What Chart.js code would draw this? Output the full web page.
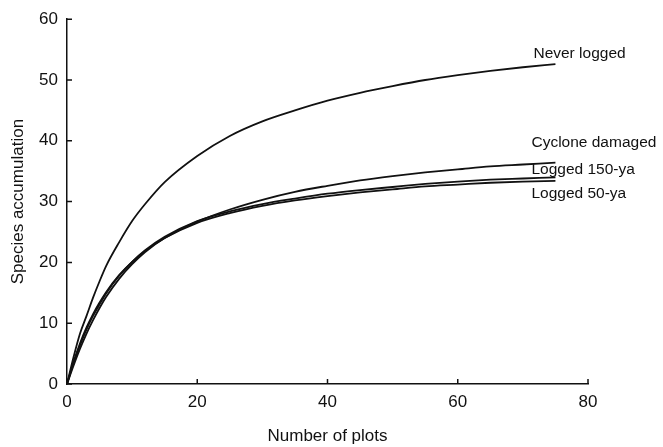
<!DOCTYPE html>
<html>
<head>
<meta charset="utf-8">
<script src="https://cdn.jsdelivr.net/npm/chart.js@4"></script>
<style>
    html, body { margin: 0; padding: 0; background: #fff; }
    #wrap { width: 663px; height: 447px; }
</style>
</head>
<body>
<div id="wrap"><canvas id="chart-species"></canvas></div>
<script>
// number of plots sampled along each curve
const plots = [0, 1, 2, 3, 4, 5, 6, 8, 10, 12, 15, 20, 25, 30, 35, 40, 45, 50, 55, 60, 65, 70, 75];

const neverLogged = [0, 4.4, 8.3, 11.2, 14.2, 16.9, 19.4, 23.3, 26.8, 29.6, 33.2, 37.5, 40.8, 43.2, 45.0, 46.6, 47.9, 49.0, 50.0, 50.8, 51.5, 52.1, 52.6];
const cycloneDamaged = [0, 3.0, 5.8, 8.3, 10.5, 12.5, 14.3, 17.3, 19.7, 21.7, 24.0, 26.7, 28.7, 30.3, 31.6, 32.6, 33.5, 34.2, 34.8, 35.3, 35.8, 36.1, 36.4];
const logged150 = [0, 3.4, 6.4, 9.0, 11.2, 13.1, 14.9, 17.8, 20.1, 22.0, 24.2, 26.8, 28.4, 29.6, 30.5, 31.3, 31.9, 32.4, 32.9, 33.3, 33.6, 33.8, 34.0];
const logged50 = [0, 3.6, 6.7, 9.3, 11.5, 13.4, 15.1, 17.9, 20.1, 21.9, 24.0, 26.5, 28.1, 29.3, 30.2, 30.9, 31.5, 32.0, 32.5, 32.8, 33.1, 33.3, 33.4];

const seriesNames = ['Never logged', 'Cyclone damaged', 'Logged 150-ya', 'Logged 50-ya'];
const xTicks = [0, 20, 40, 60, 80];
const yTicks = [0, 10, 20, 30, 40, 50, 60];

window.addEventListener('load', onLoad);

function toPoints(values) {
    return plots.map((p, i) => ({ x: p, y: values[i] }));
}

function onLoad() {
    const ink = '#111';
    const font = "'Liberation Sans', Arial, Helvetica, sans-serif";

    // where each curve name sits, relative to the end of its curve
    const labelOffsets = [[-22, -10], [-24, -20], [-24, -8], [-24, 13]];

    const endLabels = {
        id: 'endLabels',
        afterDatasetsDraw(chart) {
            const c = chart.ctx;
            c.save();
            c.fillStyle = ink;
            c.font = '15.5px ' + font;
            c.textAlign = 'left';
            c.textBaseline = 'middle';
            chart.data.datasets.forEach((ds, i) => {
                const pts = chart.getDatasetMeta(i).data;
                const last = pts[pts.length - 1];
                c.fillText(ds.label, last.x + labelOffsets[i][0], last.y + labelOffsets[i][1]);
            });
            c.restore();
        }
    };

    // tick marks drawn inside the axes
    const innerTicks = {
        id: 'innerTicks',
        afterDraw(chart) {
            const c = chart.ctx;
            const xs = chart.scales.x, ys = chart.scales.y;
            const area = chart.chartArea;
            c.save();
            c.strokeStyle = ink;
            c.lineWidth = 1.5;
            c.beginPath();
            xTicks.forEach(v => {
                const px = xs.getPixelForValue(v);
                c.moveTo(px, area.bottom);
                c.lineTo(px, area.bottom - 5);
            });
            yTicks.forEach(v => {
                const py = ys.getPixelForValue(v);
                c.moveTo(area.left, py);
                c.lineTo(area.left + 5, py);
            });
            c.stroke();
            c.restore();
        }
    };

    const lineStyle = {
        borderColor: ink,
        borderWidth: 1.8,
        pointRadius: 0,
        fill: false,
        cubicInterpolationMode: 'monotone'
    };

    const ctx = document.getElementById('chart-species').getContext('2d');
    const chartSpecies = new Chart(ctx, {
        type: 'line',
        data: {
            datasets: [
                Object.assign({ label: seriesNames[0], data: toPoints(neverLogged) }, lineStyle),
                Object.assign({ label: seriesNames[1], data: toPoints(cycloneDamaged) }, lineStyle),
                Object.assign({ label: seriesNames[2], data: toPoints(logged150) }, lineStyle),
                Object.assign({ label: seriesNames[3], data: toPoints(logged50) }, lineStyle)
            ]
        },
        options: {
            responsive: true,
            maintainAspectRatio: false,
            animation: false,
            layout: {
                padding: { left: 0, right: 75, top: 18, bottom: 0 }
            },
            plugins: {
                legend: { display: false },
                tooltip: { enabled: false }
            },
            scales: {
                x: {
                    type: 'linear',
                    min: 0,
                    max: 80,
                    afterBuildTicks: scale => { scale.ticks = xTicks.map(v => ({ value: v })); },
                    afterFit: scale => { scale.height = 63; },
                    grid: { display: false, drawTicks: false },
                    border: { display: true, color: ink, width: 1.5 },
                    ticks: {
                        color: ink,
                        padding: 8,
                        maxRotation: 0,
                        font: { family: font, size: 17 }
                    },
                    title: {
                        display: true,
                        text: 'Number of plots',
                        color: ink,
                        padding: { top: 0, bottom: 0 },
                        font: { family: font, size: 17 }
                    }
                },
                y: {
                    min: 0,
                    max: 60,
                    afterBuildTicks: scale => { scale.ticks = yTicks.map(v => ({ value: v })); },
                    afterFit: scale => { scale.width = 67; },
                    grid: { display: false, drawTicks: false },
                    border: { display: true, color: ink, width: 1.5 },
                    ticks: {
                        color: ink,
                        padding: 9,
                        font: { family: font, size: 17 }
                    },
                    title: {
                        display: true,
                        text: 'Species accumulation',
                        color: ink,
                        padding: { top: 8, bottom: 0 },
                        font: { family: font, size: 17 }
                    }
                }
            }
        },
        plugins: [endLabels, innerTicks]
    });
}
</script>
</body>
</html>
